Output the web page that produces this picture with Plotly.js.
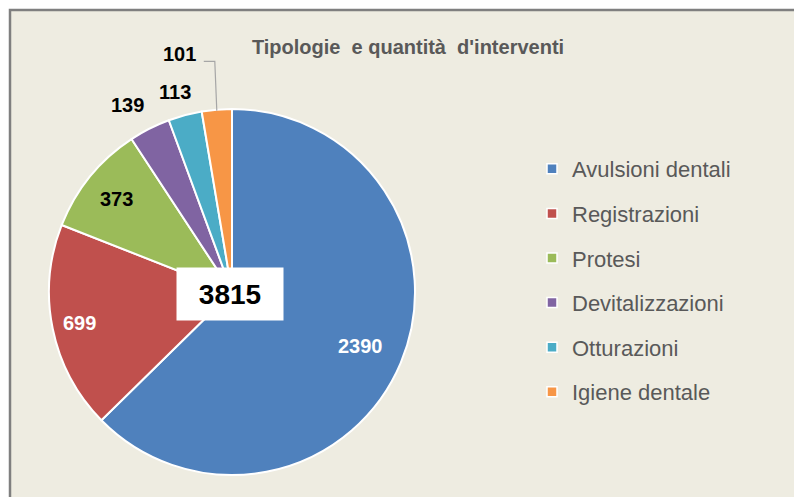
<!DOCTYPE html>
<html>
<head>
<meta charset="utf-8">
<script src="https://cdn.plot.ly/plotly-3.0.1.min.js"></script>
<style>html,body{margin:0;padding:0;background:#fff;}#chart{width:794px;height:497px;}</style>
</head>
<body>
<div id="chart"></div>
<script>
const categories = ["Avulsioni dentali", "Registrazioni", "Protesi", "Devitalizzazioni", "Otturazioni", "Igiene dentale"];
const values = [2390, 699, 373, 139, 113, 101];
const colors = ["#4F81BD", "#C0504D", "#9BBB59", "#8064A2", "#4BACC6", "#F79646"];
const labelColors = ["#FFFFFF", "#FFFFFF", "#000000", "#000000", "#000000", "#000000"];
const titleText = "Tipologie&nbsp; e quantità&nbsp; d'interventi";

// layout of the pie (pixels), label distance from the centre (share of radius) and label nudges (pixels)
const W = 794, H = 497;
const CX = 232, CY = 292, R = 183;
const labelRadius = [0.76, 0.85, 0.81, 1.17, 1.14, 1.33];
const labelNudgeX = [0, 0, 0, -8, -3, -32];
const labelNudgeY = [0, 0, 0, 4, 2, 5];
const leaderDrop = 7;
const font = "Liberation Sans, Arial, sans-serif";

const total = values.reduce((a, b) => a + b, 0);

const pie = {
  type: "pie",
  labels: categories,
  values: values,
  sort: false,
  direction: "clockwise",
  rotation: 0,
  marker: {colors: colors, line: {color: "#FFFFFF", width: 2}},
  textinfo: "none",
  domain: {x: [(CX - R) / W, (CX + R) / W], y: [1 - (CY + R) / H, 1 - (CY - R) / H]},
  showlegend: false,
  automargin: false,
  hoverinfo: "label+value+percent"
};

const legendTraces = categories.map((c, i) => ({
  type: "scatter",
  x: [null], y: [null],
  mode: "markers",
  name: c,
  legendgroup: "g" + i,
  marker: {symbol: "square", size: 10, color: colors[i], line: {color: "#FFFFFF", width: 1.5}},
  showlegend: true,
  hoverinfo: "skip"
}));

// value labels, placed at each slice's mid-angle
const annotations = [];
const shapes = [
  {type: "rect", xref: "paper", yref: "paper", x0: 10 / W, y0: -0.02, x1: 1.02, y1: 1 - 10 / H,
   fillcolor: "#EEECE1", line: {color: "#7F7F7F", width: 2.5}, layer: "below"}
];
let cum = 0;
values.forEach((v, i) => {
  const mid = (cum + v / 2) / total * 2 * Math.PI;
  cum += v;
  const px = CX + labelRadius[i] * R * Math.sin(mid) + labelNudgeX[i];
  const py = CY - labelRadius[i] * R * Math.cos(mid) + labelNudgeY[i];
  annotations.push({
    text: "<b>" + v + "</b>", xref: "paper", yref: "paper",
    x: px / W, y: 1 - py / H, xanchor: "center", yanchor: "middle",
    showarrow: false, font: {family: font, size: 20, color: labelColors[i]}
  });
  if (labelRadius[i] > 1.25) {
    const ex = CX + R * Math.sin(mid), ey = CY - R * Math.cos(mid);
    const sx = px + 24, ly = py + leaderDrop;
    shapes.push({
      type: "path", xref: "paper", yref: "paper",
      path: "M" + (sx / W) + "," + (1 - ly / H) + " L" + ((ex - 2) / W) + "," + (1 - ly / H) + " L" + (ex / W) + "," + (1 - (ey + 1) / H),
      line: {color: "#A6A6A6", width: 1.2}
    });
  }
});

annotations.push({
  text: "<b>" + total + "</b>", xref: "paper", yref: "paper", x: 230 / W, y: 1 - 294 / H,
  xanchor: "center", yanchor: "middle",
  showarrow: false, font: {family: font, size: 28, color: "#000000"},
  bgcolor: "#FFFFFF", borderpad: 9, width: 88, height: 34
});

const layout = {
  width: W, height: H,
  margin: {l: 0, r: 0, t: 0, b: 0},
  paper_bgcolor: "#FFFFFF",
  plot_bgcolor: "rgba(0,0,0,0)",
  xaxis: {visible: false}, yaxis: {visible: false},
  title: {text: "<b>" + titleText + "</b>", font: {family: font, size: 20, color: "#595959"}, x: 408 / W, xanchor: "center", y: 1 - 47 / H, yanchor: "middle"},
  showlegend: true,
  legend: {
    x: 532 / W, xanchor: "left", y: 1 - 148 / H, yanchor: "top",
    bgcolor: "rgba(0,0,0,0)",
    font: {family: font, size: 22, color: "#595959"},
    tracegroupgap: 13,
    itemclick: false, itemdoubleclick: false
  },
  shapes: shapes,
  annotations: annotations
};

Plotly.newPlot("chart", [pie].concat(legendTraces), layout, {displayModeBar: false, staticPlot: true});
</script>
</body>
</html>
